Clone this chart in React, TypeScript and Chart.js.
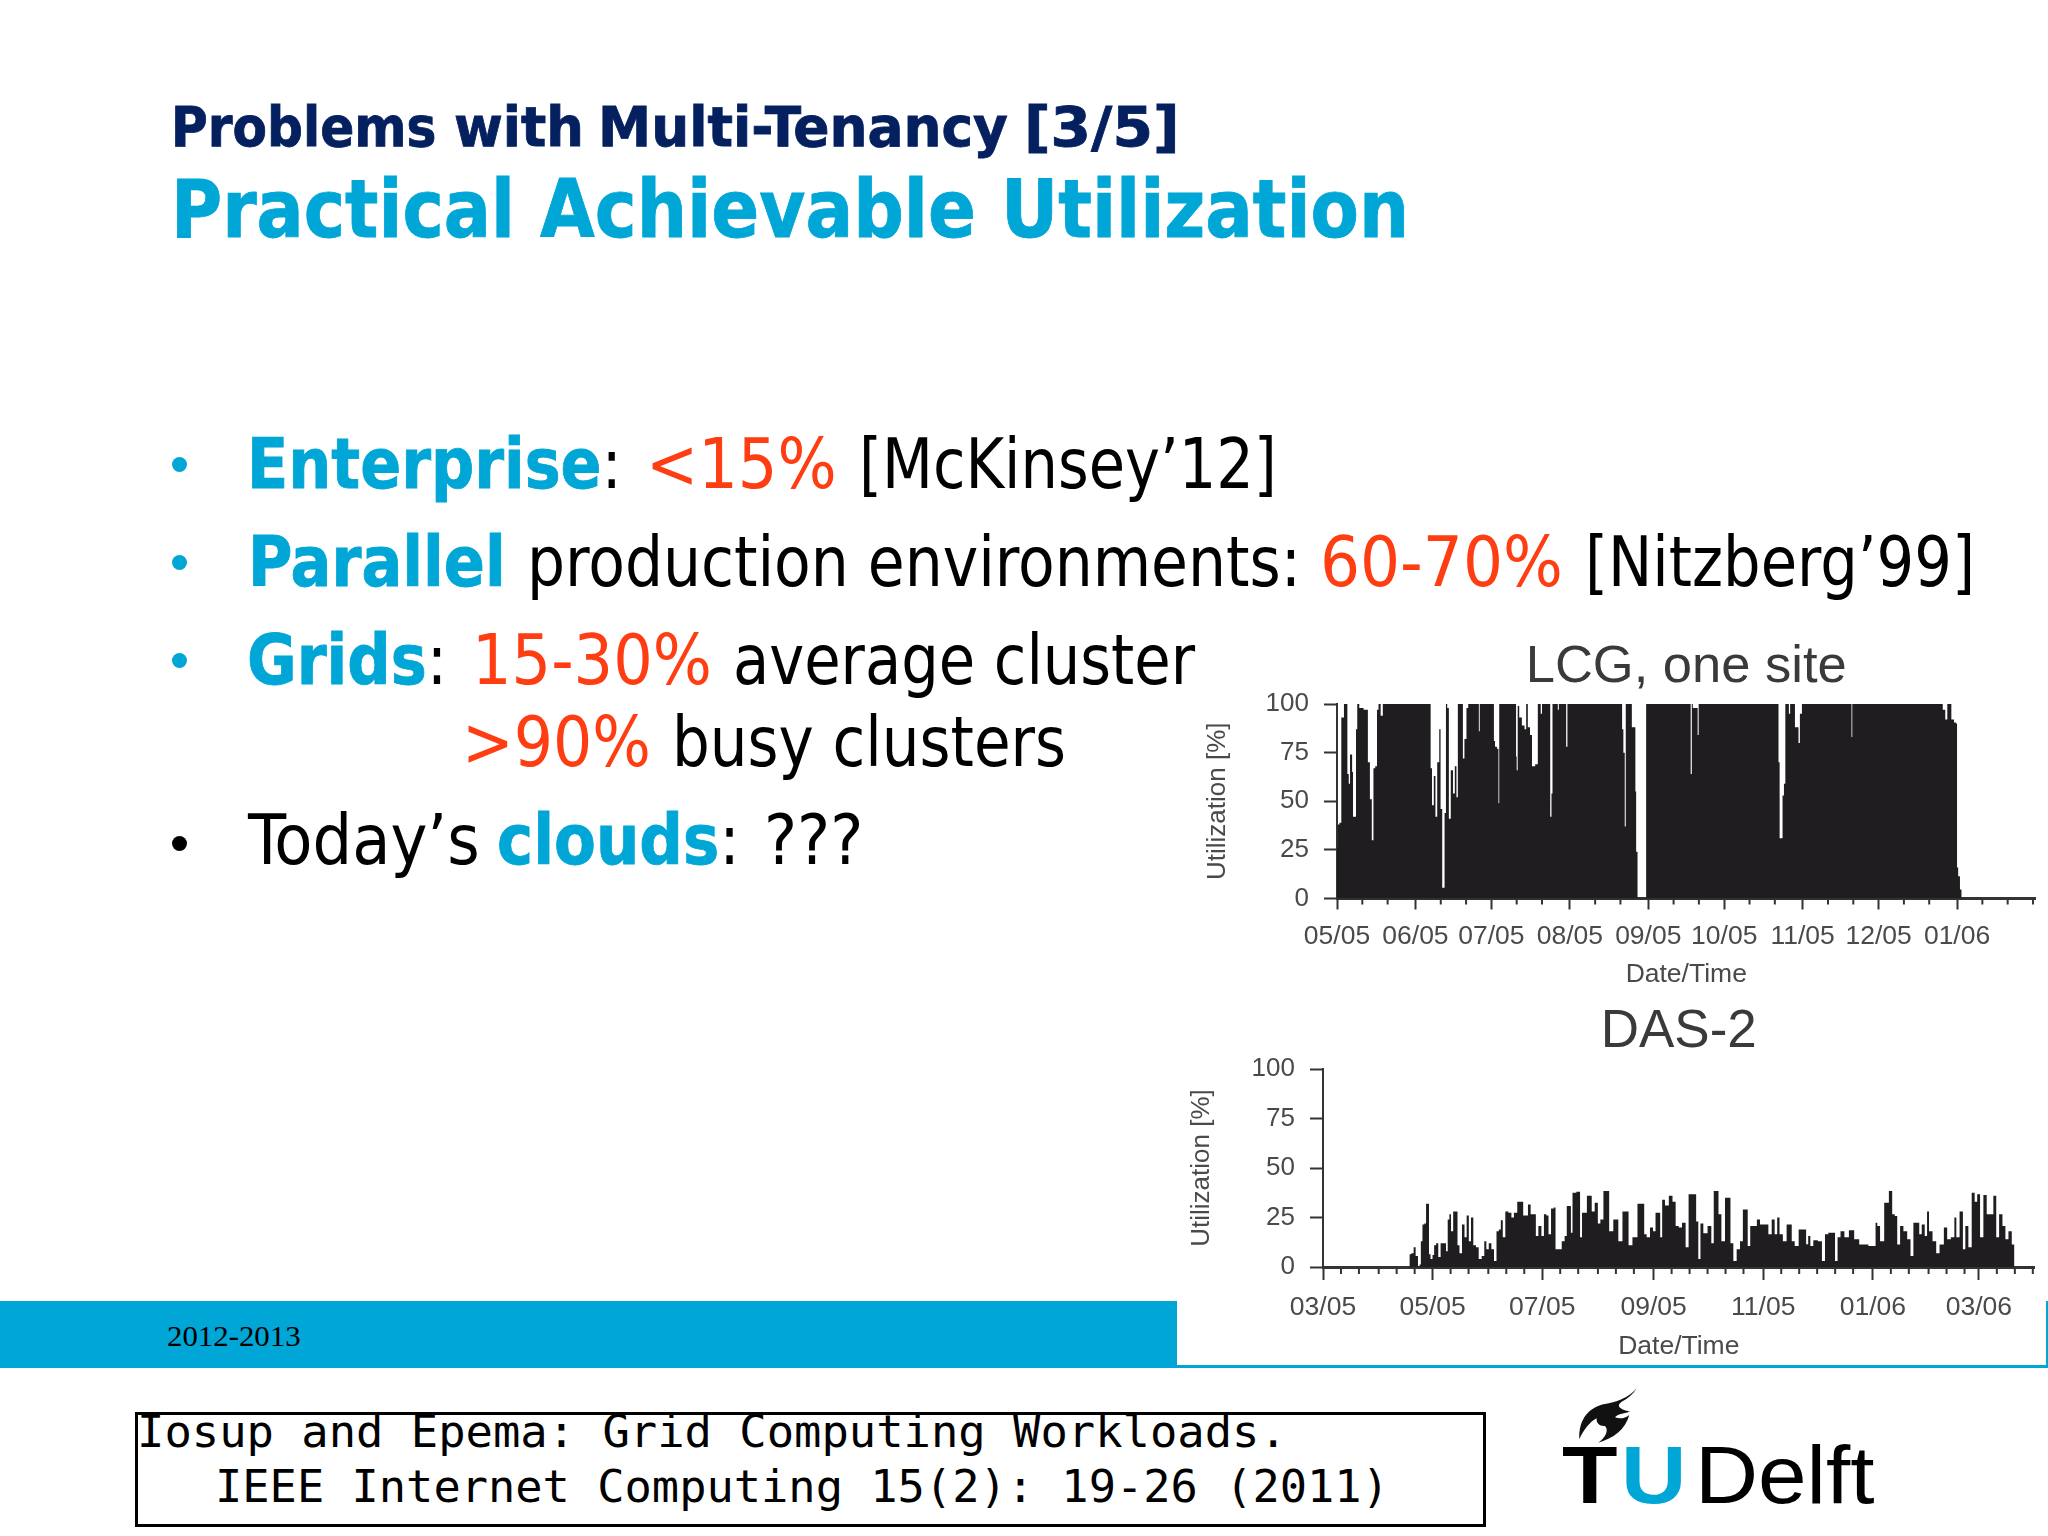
import React, { useEffect, useLayoutEffect, useRef } from "react";
import { Chart, registerables } from "chart.js";

Chart.register(...registerables);

const lcgMonthDays = [0, 31, 61, 92, 123, 153, 184, 214, 245];
const lcgMonthLabels = ["05/05", "06/05", "07/05", "08/05", "09/05", "10/05", "11/05", "12/05", "01/06"];
const lcgMinorDays = [10, 20, 41, 51, 71, 81, 102, 112, 133, 143, 163, 173, 194, 204, 224, 234, 255, 265, 275];
const lcgDays = [
  0, 0.66, 1.3, 2.1, 2.6, 2.9, 3.9, 4.3, 5.0, 5.3, 5.9, 6.05, 6.6, 7.4, 7.6, 8.4, 9.2, 11.8, 12.6, 13.4, 14.1, 14.7, 15.5, 16.1, 16.7, 17.8, 18.4,
  36.8, 37.2, 37.9, 38.6, 39.2, 40, 40.8, 41.05, 42.1, 42.9, 43.2, 43.9, 44.5, 45.4, 46.3, 46.8, 47.6, 47.9, 49.5, 50, 50.7, 51.6, 52.1,
  55.9, 56.2, 56.6, 61.9, 62.1, 62.8, 63.6, 64, 64.2, 70.7, 70.8, 71.2, 71.6, 72.4, 73.7, 74.5, 75, 75.8, 76.7, 77.4, 79.2, 79.5,
  80.3, 80.7, 81.3, 84, 84.5, 85, 85.3, 87.1, 87.4, 87.9, 90.3, 90.8, 91.3, 112.4, 112.9, 113.4, 114, 114.2, 116.3, 116.7, 117.8, 118, 118.4, 119.1,
  122, 122.3, 139.5, 140, 140.4, 140.8, 142.4, 142.6, 143.2, 174.2, 174.7, 175.1, 175.8, 176.3, 176.9, 177.4, 178.4, 178.7, 179.4, 180.8, 181.1,
  182.1, 182.6, 183.2, 184.2, 203.2, 203.4, 203.8, 238.8, 239.9, 240.8, 241.5, 242.1, 243.4, 244.2, 244.9, 245.1, 245.8, 246.5, 247, 276,
];
const lcgUtil = [
  26, 38, 39, 93, 93, 100, 100, 64, 59, 74, 74, 65, 42, 42, 87, 100, 98, 97, 70, 51, 30, 67, 68, 97, 100, 94, 100,
  100, 67, 48, 63, 42, 70, 87, 46, 5.5, 44, 100, 98, 41, 66, 54, 68, 52, 100, 100, 72, 82, 98, 100,
  100, 86, 100, 100, 81, 78, 77, 49, 100, 100, 73, 66, 99, 93, 89, 87, 100, 88, 84, 68, 69, 100,
  100, 95, 100, 100, 42, 54, 100, 100, 97, 100, 100, 78, 100, 100, 87, 75, 37, 100, 100, 88, 88, 55, 24, 0,
  0, 100, 100, 64, 100, 98, 98, 84, 100, 100, 70, 31, 31, 53, 59, 100, 100, 95, 100, 100, 88,
  88, 80, 95, 100, 100, 83, 100, 100, 97, 92, 100, 100, 92, 90.5, 90, 16, 11.5, 4.6, 0, 0,
];

const dasMonthDays = [0, 61, 122, 184, 245, 306, 365];
const dasMonthLabels = ["03/05", "05/05", "07/05", "09/05", "11/05", "01/06", "03/06"];
const dasMinorDays = [10, 20, 31, 41, 51, 71, 81, 92, 102, 112, 132, 142, 153, 163, 173, 194, 204, 214, 224, 234, 255, 265, 275, 285, 295, 316, 326, 337, 347, 357, 375, 385, 395];
const dasDays = [
  0, 48.0, 48.4, 49.9, 51.0, 52.1, 53.6, 54.0, 54.9, 55.8, 57.0, 57.7, 58.8, 59.2, 60.5, 61.4, 62.3, 63.6, 64.7, 66.2, 68.1, 68.8, 70.0, 70.7, 71.8, 73.1, 74.4, 75.3, 76.6, 78.1, 79.4, 80.5, 81.8, 82.9, 84.4, 85.9, 87.4, 89.2, 90.3, 91.5, 93.0, 94.4, 95.9, 97.2, 98.5, 99.4, 100.7, 102.2, 104.1, 105.6, 106.9, 109.3, 110.9, 111.9, 113.3, 114.8, 116.3, 118.0, 118.9, 120.8, 122.3, 123.6, 125.0, 126.0, 127.8, 129.1, 129.7, 131.9, 133.8, 135.1, 136.2, 137.5, 138.4, 139.3, 142.7, 143.4, 144.9, 146.4, 147.3, 149.0, 150.1, 152.3, 153.6, 155.1, 157.0, 158.8, 159.7, 163.4, 165.3,
  168.0, 169.3, 170.8, 173.6, 176.4, 178.3, 179.2, 181.0, 182.9, 184.4, 185.7, 187.2, 188.1, 189.4, 191.2, 193.7, 195.3, 197.2, 198.7, 200.9, 202.7, 204.2, 207.0, 208.3, 209.4, 210.7, 212.6, 215.4, 216.8, 218.1, 219.6, 220.6, 222.8, 224.6, 226.1, 227.4, 229.3, 231.1, 233.0, 234.3, 235.8, 236.9, 238.6, 240.6, 242.3, 244.1, 246.9, 248.8, 250.6, 252.1, 253.4, 254.7, 257.1, 258.9, 260.3, 261.4, 263.6, 265.8, 268.2, 269.5, 270.5, 271.9, 273.8, 276.9, 278.4, 280.3, 282.1,
  284.0, 285.9, 286.8, 289.2, 291.1, 294.2, 297.0, 299.8, 307.2, 307.8, 309.1, 310.9, 313.7, 316.1, 317.4, 318.9, 320.2, 322.1, 323.9, 326.3, 327.6, 329.5, 331.3, 332.3, 334.1, 335.6, 336.7, 337.8, 340.6, 341.9, 344.3, 346.7, 348.0, 350.8, 351.9, 353.0, 355.5, 356.7, 358.2, 360.1, 361.9, 363.4, 364.7, 366.6, 368.4, 370.3, 372.1, 374.0, 375.3, 377.2, 379.0, 380.5, 382.4, 384.2, 385.1, 396,
];
const dasUtil = [
  0, 0, 6.4, 7, 10, 5.5, 0.5, 1.3, 13, 21.5, 22, 32, 32, 6.4, 4, 6, 11, 12, 5, 12, 12, 8, 24, 26.6, 18, 28, 28, 11, 7, 21.5, 15, 26, 13, 25, 11, 10, 4, 5.5, 13, 9, 12, 9, 3, 18, 19, 23.6, 15, 28, 27.4, 25, 27.4, 33, 33, 26, 26, 31.6, 26.6, 26.6, 15.6, 20.7, 15.6, 26.6, 26, 16.5, 29.6, 30, 9, 9, 13, 15.6, 30.8, 30.8, 17.3, 37.5, 38, 15, 27.4, 27.4, 36, 36, 28, 32.5, 22, 24, 38.4, 38.4, 18, 24, 13,
  28, 28, 11, 15, 32, 32, 16.5, 15, 20, 18, 27.4, 27.4, 15, 34, 31, 36, 33, 20.7, 20, 22.4, 10, 36.7, 36.7, 23, 4, 22, 17, 20.7, 12, 38.4, 38.4, 26.6, 13, 35, 35, 12, 3, 9, 13, 29, 29, 10.6, 20.7, 20.7, 24, 21.5, 21.5, 16.5, 24, 16.5, 25, 16.5, 13, 21.5, 21.5, 13, 10.6, 19, 19, 11.5, 15.6, 10.6, 13.5, 13, 3, 16.5, 17.3,
  17.3, 3, 15, 18, 15, 18.5, 14, 11.4, 10.6, 22.4, 20.7, 13, 32.5, 38.4, 26.6, 25.8, 11.4, 20.7, 18, 14, 5.5, 22.4, 22.4, 16.5, 21.5, 15.6, 28, 18, 13, 7, 11.4, 20, 14, 15, 25, 15, 28, 9, 20.7, 10, 37.5, 33, 36.7, 15, 36.4, 26.6, 26.6, 36, 15, 26.6, 20.7, 14, 18, 11.4, 0, 0,
];

const yTicks = [0, 25, 50, 75, 100];
const INK = "#1f1d20";
const AXIS = "#333333";
const LABEL = "#4a4a4a";
const CYAN = "#00a6d6";
const RED = "#ff3d12";
const NAVY = "#04205f";
const BODY = '"DejaVu Sans Condensed","DejaVu Sans"';

type ChartSpec = {
  title: string; days: number[]; util: number[]; majors: number[]; labels: string[]; minors: number[];
  maxDay: number; yWidth: number; xHeight: number; padRight: number; titleSize: number; titleLine: number; titleTop: number; titleBottom: number;
  majorLen: number; minorLen: number; yTitlePad: number; xTitlePad: number; width: number; height: number;
};

function UtilChart({ spec, left, top }: { spec: ChartSpec; left: number; top: number }) {
  const ref = useRef<HTMLCanvasElement | null>(null);
  useEffect(() => {
    const minorTicks = {
      id: "minorTicks",
      afterDatasetsDraw(chart: any) {
        const { ctx, scales, chartArea } = chart;
        ctx.save();
        ctx.strokeStyle = AXIS;
        ctx.lineWidth = 2;
        spec.minors.forEach((d) => {
          const x = scales.x.getPixelForValue(d);
          ctx.beginPath();
          ctx.moveTo(x, chartArea.bottom);
          ctx.lineTo(x, chartArea.bottom + spec.minorLen);
          ctx.stroke();
        });
        ctx.restore();
      },
    };
    const chart = new Chart(ref.current as HTMLCanvasElement, {
      type: "line",
      data: {
        datasets: [{
          data: spec.days.map((d, i) => ({ x: d, y: spec.util[i] })),
          borderWidth: 0,
          pointRadius: 0,
          stepped: "middle",
          fill: "origin",
          backgroundColor: INK,
          borderColor: INK,
        }],
      },
      plugins: [minorTicks],
      options: {
        animation: false,
        responsive: false,
        devicePixelRatio: 1,
        layout: { padding: { right: spec.padRight, left: 0, top: 0, bottom: 0 } },
        plugins: {
          legend: { display: false },
          tooltip: { enabled: false },
          title: {
            display: true,
            text: spec.title,
            fullSize: false,
            color: "#3a3a3a",
            font: { family: "Liberation Sans", size: spec.titleSize, weight: "normal", lineHeight: spec.titleLine },
            padding: { top: spec.titleTop, bottom: spec.titleBottom },
          },
        },
        scales: {
          x: {
            type: "linear",
            min: 0,
            max: spec.maxDay,
            afterBuildTicks: (s: any) => { s.ticks = spec.majors.map((v) => ({ value: v })); },
            afterFit: (s: any) => { s.height = spec.xHeight; },
            ticks: {
              autoSkip: false, maxRotation: 0, minRotation: 0, padding: 11.4, color: LABEL,
              font: { family: "Liberation Sans", size: 26.5 },
              callback: (v: any) => spec.labels[spec.majors.indexOf(Number(v))] ?? "",
            },
            grid: { drawOnChartArea: false, tickLength: spec.majorLen, tickColor: AXIS, tickWidth: 2 },
            border: { display: true, color: AXIS, width: 3 },
            title: {
              display: true, text: "Date/Time", color: LABEL,
              font: { family: "Liberation Sans", size: 26.5 }, padding: { top: 0, bottom: spec.xTitlePad },
            },
          },
          y: {
            min: 0,
            max: 100,
            afterBuildTicks: (s: any) => { s.ticks = yTicks.map((v) => ({ value: v })); },
            afterFit: (s: any) => { s.width = spec.yWidth; },
            ticks: { padding: 15, color: LABEL, font: { family: "Liberation Sans", size: 26 } },
            grid: { drawOnChartArea: false, tickLength: 13, tickColor: AXIS, tickWidth: 2 },
            border: { display: true, color: AXIS, width: 2 },
            title: {
              display: true, text: "Utilization [%]", color: LABEL,
              font: { family: "Liberation Sans", size: 26 }, padding: { top: spec.yTitlePad, bottom: 0 },
            },
          },
        },
      },
    } as any);
    return () => chart.destroy();
  }, [spec]);
  return <canvas ref={ref} width={spec.width} height={spec.height} style={{ position: "absolute", left, top }} />;
}

const lcgSpec: ChartSpec = {
  title: "LCG, one site", days: lcgDays, util: lcgUtil, majors: lcgMonthDays, labels: lcgMonthLabels, minors: lcgMinorDays,
  maxDay: 276, yWidth: 157, xHeight: 92.5, padRight: 12.5, titleSize: 52.5, titleLine: 1.2, titleTop: 5, titleBottom: 5,
  majorLen: 11, minorLen: 6, yTitlePad: 22.6, xTitlePad: 0, width: 868, height: 360,
};
const dasSpec: ChartSpec = {
  title: "DAS-2", days: dasDays, util: dasUtil, majors: dasMonthDays, labels: dasMonthLabels, minors: dasMinorDays,
  maxDay: 396, yWidth: 153, xHeight: 104, padRight: 13.4, titleSize: 53, titleLine: 1, titleTop: 4.5, titleBottom: 10.5,
  majorLen: 13, minorLen: 7, yTitlePad: 16, xTitlePad: 8, width: 878, height: 370,
};

function Line({ left, width, cy, size, family, weight, color, children }: any) {
  const ref = useRef<HTMLDivElement | null>(null);
  useLayoutEffect(() => {
    const el = ref.current as HTMLDivElement;
    el.style.transform = `translateY(-50%) scaleX(${width / el.offsetWidth})`;
  }, [width]);
  return (
    <div ref={ref} style={{
      position: "absolute", left, top: cy, whiteSpace: "pre", transformOrigin: "left center",
      fontSize: size, fontFamily: family ?? BODY, fontWeight: weight ?? "normal", color: color ?? "#000", lineHeight: 1.2,
      WebkitTextStroke: weight === "bold" && !family ? "0.8px currentColor" : undefined,
    }}>{children}</div>
  );
}

// One run of text whose ink spans x0..x1 on the page.
const Seg = ({ x0, x1, cy, size = 70, ...rest }: any) => (
  <Line left={x0 - 3} width={x1 - x0 + 6} cy={cy} size={size} {...rest} />
);

const Blue = ({ children }: any) => <b style={{ color: CYAN, WebkitTextStroke: "0.8px currentColor" }}>{children}</b>;
const Bullet = ({ cy, color }: any) => (
  <div style={{ position: "absolute", left: 172, top: cy - 7, width: 15, height: 15, borderRadius: "50%", background: color }} />
);

export default function App() {
  return (
    <div style={{ position: "absolute", left: 0, top: 0, width: 2048, height: 1536, overflow: "hidden", background: "#fff" }}>
      <Seg x0={174} x1={433} cy={127} size={56} weight="bold" color={NAVY}>Problems</Seg>
      <Seg x0={457} x1={581} cy={127} size={56} weight="bold" color={NAVY}>with</Seg>
      <Seg x0={601} x1={1005} cy={127} size={56} weight="bold" color={NAVY}>Multi-Tenancy</Seg>
      <Seg x0={1027} x1={1177} cy={127} size={56} weight="bold" color={NAVY}>[3/5]</Seg>
      <Seg x0={174} x1={512} cy={210} size={81} weight="bold" color={CYAN}>Practical</Seg>
      <Seg x0={543} x1={973} cy={210} size={81} weight="bold" color={CYAN}>Achievable</Seg>
      <Seg x0={1004} x1={1406} cy={210} size={81} weight="bold" color={CYAN}>Utilization</Seg>

      <Bullet cy={464} color={CYAN} />
      <Seg x0={250} x1={619} cy={464}><Blue>Enterprise</Blue>:</Seg>
      <Seg x0={649} x1={834} cy={464} color={RED}>&lt;15%</Seg>
      <Seg x0={862} x1={1274} cy={464}>[McKinsey’12]</Seg>

      <Bullet cy={562} color={CYAN} />
      <Seg x0={251} x1={503} cy={562} weight="bold" color={CYAN}>Parallel</Seg>
      <Seg x0={530} x1={1298} cy={562}>production environments:</Seg>
      <Seg x0={1323} x1={1560} cy={562} color={RED}>60-70%</Seg>
      <Seg x0={1588} x1={1972} cy={562}>[Nitzberg’99]</Seg>

      <Bullet cy={660} color={CYAN} />
      <Seg x0={250} x1={444} cy={660}><Blue>Grids</Blue>:</Seg>
      <Seg x0={475} x1={709} cy={660} color={RED}>15-30%</Seg>
      <Seg x0={736} x1={1192} cy={660}>average cluster</Seg>

      <Seg x0={465} x1={648} cy={742} color={RED}>&gt;90%</Seg>
      <Seg x0={675} x1={1063} cy={742}>busy clusters</Seg>

      <Bullet cy={843} color="#000" />
      <Seg x0={251} x1={477} cy={840}>Today’s</Seg>
      <Seg x0={500} x1={737} cy={840}><Blue>clouds</Blue>:</Seg>
      <Seg x0={767} x1={860} cy={840}>???</Seg>

      <div style={{ position: "absolute", left: 0, top: 1301, width: 1177, height: 67, background: CYAN }} />
      <div style={{ position: "absolute", left: 1177, top: 1365, width: 871, height: 3, background: CYAN }} />
      <div style={{ position: "absolute", left: 2046, top: 1301, width: 2, height: 66, background: CYAN }} />
      <Line left={167} width={134} cy={1336} size={29} family="Liberation Serif">2012-2013</Line>

      <UtilChart spec={lcgSpec} left={1180} top={631} />
      <UtilChart spec={dasSpec} left={1170} top={1001} />

      <div style={{ position: "absolute", left: 135, top: 1412, width: 1351, height: 115, boxSizing: "border-box", border: "3px solid #000" }} />
      <Line left={137} width={1150} cy={1432} size={45} family="DejaVu Sans Mono">Iosup and Epema: Grid Computing Workloads.</Line>
      <Line left={215} width={1174} cy={1487} size={45} family="DejaVu Sans Mono">IEEE Internet Computing 15(2): 19-26 (2011)</Line>

      <svg style={{ position: "absolute", left: 1550, top: 1380 }} width="340" height="140" viewBox="0 0 1020 420">
        <path d="M260 25 C235 55 195 68 165 72 C120 80 85 115 88 178 C100 150 120 125 140 115 C138 130 150 140 165 138 C178 150 165 175 145 188 C190 175 225 150 238 105 C225 115 210 118 195 112 C205 100 225 100 240 95 C215 88 195 80 215 65 C235 55 250 42 260 25 Z" fill="#111" />
      </svg>
      <Line left={1562} width={55} cy={1476} size={81} family="Liberation Sans" weight="bold" color="#000">T</Line>
      <Line left={1621} width={66} cy={1476} size={81} family="Liberation Sans" weight="bold" color={CYAN}>U</Line>
      <Line left={1695} width={180} cy={1476} size={81} family="Liberation Sans" color="#000">Delft</Line>
    </div>
  );
}
